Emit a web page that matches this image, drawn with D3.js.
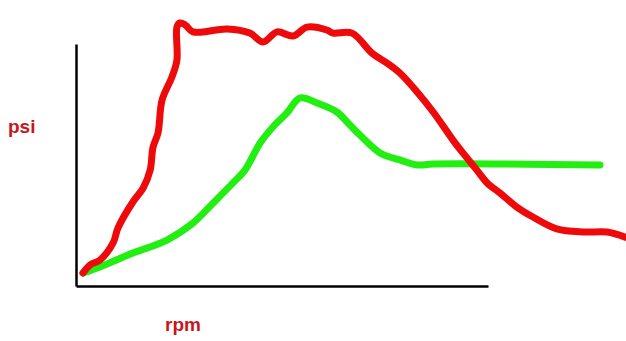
<!DOCTYPE html>
<html>
<head>
<meta charset="utf-8">
<script src="https://cdn.jsdelivr.net/npm/d3@7"></script>
<style>
  body { margin: 0; background: #fff; }
  svg { display: block; }
</style>
</head>
<body>
<script>
// hand-drawn boost curves (arbitrary 0-100 units on both axes)
const redRpm = [1.7, 3.4, 5.8, 9.0, 10.2, 13.8, 16.3, 18.0, 18.7, 19.9, 20.9, 23.3, 24.5, 24.5, 25.2, 26.5, 28.4,
  36.7, 42.2, 45.4, 48.8, 52.7, 56.1, 60.9, 62.4, 67.0, 71.8, 75.5, 78.6, 82.8, 86.7, 91.5, 93.9, 97.3, 99.8,
  102.9, 107.0, 110.9, 116.7, 123.1, 128.9, 133.3];
const redPsi = [5.4, 8.7, 10.7, 17.8, 24.0, 34.7, 40.5, 47.9, 57.4, 63.2, 76.9, 86.4, 93.4, 107.0, 108.7, 107.9, 105.0,
  106.2, 104.5, 100.8, 105.0, 103.3, 107.0, 105.8, 104.5, 104.5, 96.3, 92.1, 88.0, 80.2, 71.9, 60.3, 55.0, 47.9, 42.6,
  38.4, 32.6, 28.5, 23.6, 22.3, 22.3, 20.2];

const greenRpm = [1.7, 5.8, 13.8, 22.1, 28.4, 33.3, 38.1, 41.0, 44.7, 47.8, 51.2, 54.4, 58.5, 63.3, 66.5, 68.9, 73.8,
  78.6, 82.8, 86.7, 127.2];
const greenPsi = [5.4, 7.9, 13.6, 19.0, 26.0, 34.3, 42.6, 47.9, 59.1, 65.7, 71.5, 77.7, 75.6, 71.9, 66.5, 62.4, 55.0,
  52.1, 50.0, 50.4, 50.0];

const xLabel = "rpm";
const yLabel = "psi";

const width = 626, height = 341;

const x = d3.scaleLinear().domain([0, 100]).range([76, 488]);
const y = d3.scaleLinear().domain([0, 100]).range([286, 44]);

const svg = d3.select("body").append("svg")
  .attr("width", width)
  .attr("height", height)
  .style("background", "#fff");

// axes drawn as bare lines, no ticks
svg.append("g")
  .attr("transform", `translate(0,${y(0)})`)
  .call(d3.axisBottom(x).ticks(0).tickSize(0))
  .call(g => g.select(".domain").attr("stroke", "#000").attr("stroke-width", 2.5));

svg.append("g")
  .attr("transform", `translate(${x(0)},0)`)
  .call(d3.axisLeft(y).ticks(0).tickSize(0))
  .call(g => g.select(".domain").attr("stroke", "#000").attr("stroke-width", 2.5));

// centripetal catmull-rom keeps the paint-brush wobble without overshooting
const line = d3.line()
  .x(d => x(d[0]))
  .y(d => y(d[1]))
  .curve(d3.curveCatmullRom.alpha(0.5));

const curves = [
  {pts: d3.zip(greenRpm, greenPsi), color: "#22ee11"},
  {pts: d3.zip(redRpm, redPsi), color: "#ee0a0a"}
];

svg.selectAll("path.curve")
  .data(curves)
  .join("path")
  .attr("class", "curve")
  .attr("d", d => line(d.pts))
  .attr("fill", "none")
  .attr("stroke", d => d.color)
  .attr("stroke-width", 7)
  .attr("stroke-linecap", "round")
  .attr("stroke-linejoin", "round");

svg.append("text")
  .attr("x", 8).attr("y", 133)
  .attr("fill", "#c8161c")
  .style("font", "bold 19px Arial, 'Liberation Sans', sans-serif")
  .text(yLabel);

svg.append("text")
  .attr("x", 165).attr("y", 331)
  .attr("fill", "#c8161c")
  .style("font", "bold 19px Arial, 'Liberation Sans', sans-serif")
  .text(xLabel);
</script>
</body>
</html>
